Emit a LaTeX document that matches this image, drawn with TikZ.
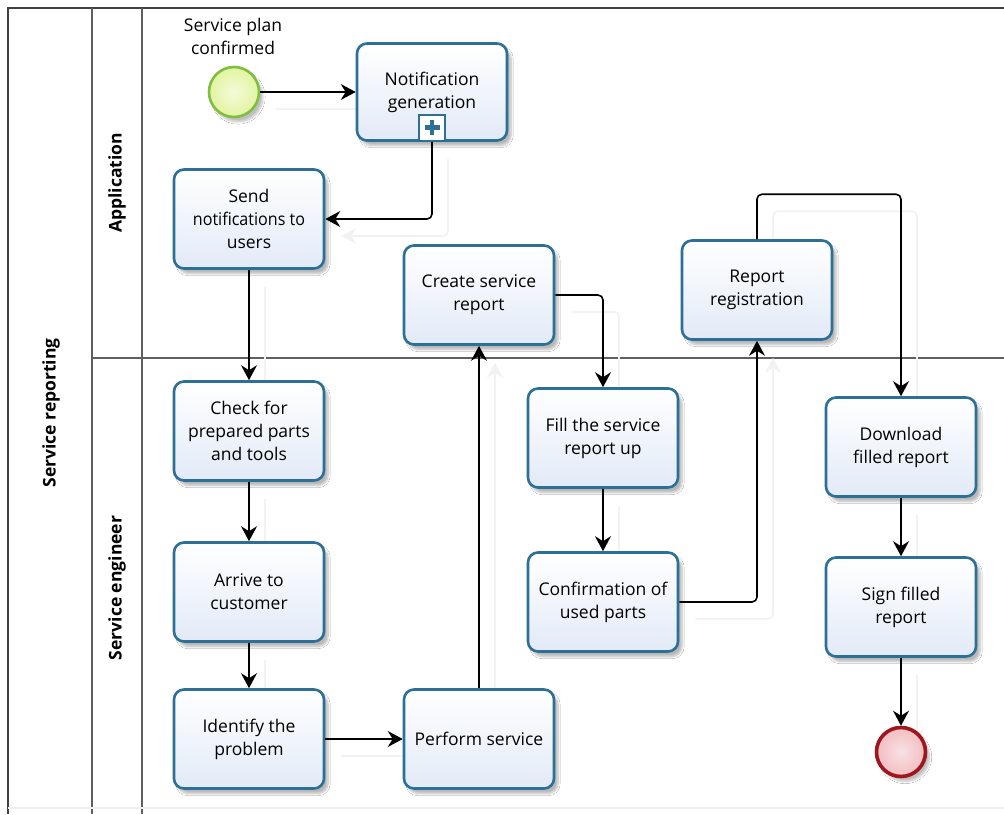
\documentclass[tikz,border=0pt]{standalone}
\usepackage{fontspec}
\setmainfont{Open Sans}
\usetikzlibrary{arrows.meta,shadows.blur,backgrounds,calc}

\definecolor{taskblue}{RGB}{44,112,152}
\definecolor{taskfill}{RGB}{226,234,247}
\definecolor{poolline}{RGB}{95,95,95}
\definecolor{startline}{RGB}{128,190,64}
\definecolor{startfill}{RGB}{226,244,160}
\definecolor{endline}{RGB}{160,22,28}
\definecolor{endfill}{RGB}{240,190,194}

\newcommand\taskfont{\fontsize{17.5}{23}\selectfont}
\newcommand\lanefont{\fontsize{17.5}{20}\selectfont\bfseries}

\tikzset{
  task/.style={draw=taskblue, line width=2.6pt, rounded corners=10pt,
    minimum width=150pt, minimum height=99pt, align=center, font=\taskfont,
    top color=white, bottom color=taskfill,
    blur shadow={shadow xshift=4pt, shadow yshift=-5pt, shadow blur steps=8, shadow opacity=28}},
  startev/.style={circle, draw=startline, line width=2.6pt, minimum size=50pt,
    inner color=white!60!startfill, outer color=startfill,
    blur shadow={shadow xshift=4pt, shadow yshift=-5pt, shadow blur steps=8, shadow opacity=25}},
  endev/.style={circle, draw=endline, line width=3.6pt, minimum size=49pt,
    inner color=white!55!endfill, outer color=endfill,
    blur shadow={shadow xshift=4pt, shadow yshift=-5pt, shadow blur steps=8, shadow opacity=25}},
  submark/.style={draw=taskblue, line width=2pt, fill=white, minimum size=26pt, inner sep=0pt},
  evlabel/.style={align=center, font=\taskfont},
  lanelabel/.style={rotate=90, font=\lanefont},
  poolrule/.style={draw=poolline, line width=1.5pt},
  flow/.style={draw=black, line width=1.6pt, rounded corners=5pt,
    -{Stealth[length=15pt, width=16pt, inset=5pt]}},
  flowshade/.style={draw=black!5, line width=1.6pt, rounded corners=5pt,
    -{Stealth[length=15pt, width=16pt, inset=5pt]}},
}

% sequence flows, drawn once as faint shadows and once in black
\newcommand\seqflows[1]{%
  \draw[#1] (start.east) -- (notif.west);
  \draw[#1] (notif.south) |- (send.east);
  \draw[#1] (send.south) -- (check.north);
  \draw[#1] (check.south) -- (arrive.north);
  \draw[#1] (arrive.south) -- (ident.north);
  \draw[#1] (ident.east) -- (perform.west);
  \draw[#1] (perform.north) -- (create.south);
  \draw[#1] (create.east) -| (fill.north);
  \draw[#1] (fill.south) -- (confirm.north);
  \draw[#1] (confirm.east) -| (reg.south);
  \draw[#1] (reg.north) -- ++(0,-45) -| (download.north);
  \draw[#1] (download.south) -- (sign.north);
  \draw[#1] (sign.south) -- (endevt.north);
}

\begin{document}
\begin{tikzpicture}[x=1pt, y=-1pt]
\useasboundingbox (0,0) rectangle (1004,814);
\clip (0,0) rectangle (1004,814);

% tasks and events
\node[startev] (start) at (234,92) {};
\node[evlabel, anchor=south] (startlbl) at (233,58) {Service plan\\confirmed};
\node[task, minimum height=97pt] (notif) at (432,92) {Notification\\generation};
\node[submark, anchor=south] (notifmark) at (notif.south) {};
\fill[taskblue] ($(notifmark.center)+(-7.5,-2.4)$) rectangle ($(notifmark.center)+(7.5,2.4)$);
\fill[taskblue] ($(notifmark.center)+(-2.4,-7.5)$) rectangle ($(notifmark.center)+(2.4,7.5)$);

\node[task] (send) at (249,219) {Send\\\scalebox{0.92}[1]{notifications to}\\users};
\node[task] (create) at (479,295) {Create service\\report};
\node[task] (reg) at (757,290) {Report\\registration};

\node[task] (check) at (249,431) {Check for\\prepared parts\\and tools};
\node[task] (arrive) at (249,592) {Arrive to\\customer};
\node[task] (ident) at (249,739) {Identify the\\problem};
\node[task] (perform) at (479,739) {Perform service};
\node[task] (fill) at (603,438) {Fill the service\\report up};
\node[task] (confirm) at (603,602) {Confirmation of\\used parts};
\node[task] (download) at (901,447) {Download\\filled report};
\node[task] (sign) at (901,607) {Sign filled\\report};
\node[endev] (endevt) at (901,752) {};

% page, pool, lanes and connector shadows underneath
\begin{scope}[on background layer]
  \fill[white] (0,0) rectangle (1004,814);
  \draw[poolrule, draw=black!75, line width=1.8pt] (1004,8) -- (8,8) -- (8,814);
  \draw[poolrule] (92,8) -- (92,814);
  \draw[poolrule] (142,8) -- (142,814);
  \draw[poolrule] (92,358) -- (1004,358);
  \draw[draw=black!6, line width=1.5pt] (8,808) -- (1004,808);
  \node[lanelabel] (pooltitle) at (51,413) {Service reporting};
  \node[lanelabel] (lane1) at (117,183) {Application};
  \node[lanelabel] (lane2) at (117,588) {Service engineer};
  \begin{scope}[transform canvas={shift={(16pt,-17pt)}}]
    \seqflows{flowshade}
  \end{scope}
\end{scope}

\seqflows{flow}
\end{tikzpicture}
\end{document}
